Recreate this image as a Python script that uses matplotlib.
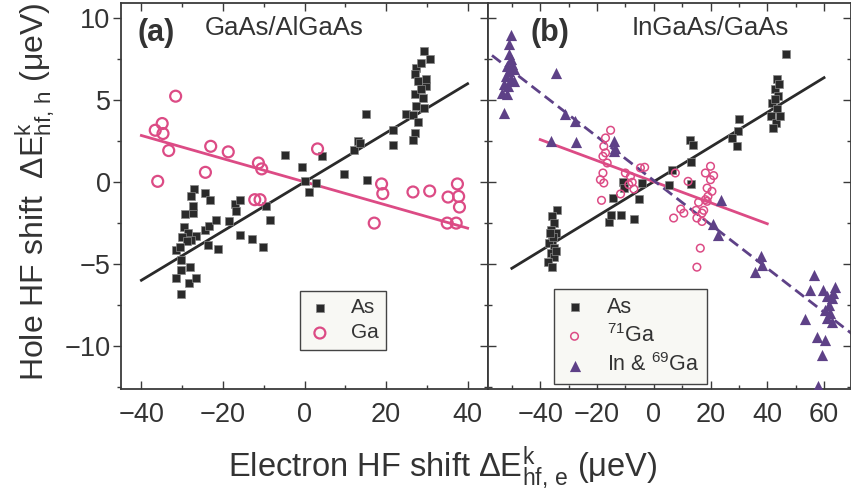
import matplotlib
matplotlib.use("Agg")
import matplotlib.pyplot as plt
import numpy as np

plt.rcParams['font.family'] = ['Liberation Sans', 'DejaVu Sans']
plt.rcParams['mathtext.fontset'] = 'custom'
plt.rcParams['mathtext.rm'] = 'Liberation Sans'
plt.rcParams['mathtext.it'] = 'Liberation Sans:italic'
plt.rcParams['mathtext.bf'] = 'Liberation Sans:bold'

TXT = '#333333'
BLACK = '#2a2a2a'
PINK = '#dc4b85'
PURPLE = '#5e4187'

# ---- panel (a): GaAs/AlGaAs ----
a_as_x = [-27.1, -27.9, -24.5, -23.2, -29.2, -27.3, -27.3, -29.6, -28.6, -30.0,
          -26.7, -27.9, -28.9, -31.6, -30.6, -30.4, -30.4, -31.6, -28.0, -28.3,
          -26.6, -30.4, -24.3, -23.4, -21.8, -23.6, -21.3, -18.4, -17.0, -15.9,
          -16.8, -15.9, -12.8, -10.2, -9.5, -8.4, -4.8, -0.7, 0.1, 2.8,
          1.2, 4.2, 9.6, 15.3, 15.1, 12.2, 13.0, 13.7, 21.7, 21.7,
          29.4, 30.7, 27.4, 28.6, 27.0, 27.8, 29.8, 27.0, 29.0, 27.4,
          29.3, 24.9, 26.5, 27.9, 27.0, 26.7, 28.6, 29.8]
a_as_y = [-0.41, -0.88, -0.67, -1.12, -1.96, -1.90, -1.45, -2.76, -3.12, -3.37,
          -3.29, -3.53, -3.63, -4.18, -3.94, -4.76, -5.37, -5.88, -5.16, -6.18,
          -5.84, -6.84, -2.92, -2.71, -2.35, -3.84, -4.10, -2.37, -1.33, -1.08,
          -1.76, -3.22, -3.49, -3.98, -1.49, -2.31, 1.67, 0.90, 0.04, -0.06,
          -0.63, 1.57, 0.51, 0.14, 4.18, 1.98, 2.49, 2.39, 3.20, 2.24,
          8.00, 7.53, 6.98, 7.29, 6.57, 6.16, 5.86, 5.35, 5.14, 4.63,
          4.53, 4.18, 4.12, 3.65, 3.00, 2.59, 5.65, 6.27]

a_ga_x = [-31.6, -36.6, -34.9, -34.7, -33.3, -36.0, -23.0, -18.7, -24.3, -11.3,
          -10.5, -12.2, -10.9, 3.2, 18.9, 19.2, 17.1, 26.6, 30.7, 35.2,
          37.5, 37.8, 38.0, 35.0, 37.2]
a_ga_y = [5.24, 3.16, 3.57, 2.96, 1.92, 0.04, 2.18, 1.84, 0.59, 1.16,
          0.80, -1.08, -1.08, 2.02, -0.12, -0.71, -2.51, -0.61, -0.55, -0.92,
          -0.12, -0.88, -1.53, -2.51, -2.51]

a_as_fit_x = [-40, 40]
a_as_fit_y = [-6.0, 6.0]
a_ga_fit_x = [-40, 40]
a_ga_fit_y = [2.84, -2.82]

# ---- panel (b): InGaAs/GaAs ----
b_as_x = [-34.0, -35.8, -35.2, -36.3, -34.6, -35.8, -36.9, -35.2, -36.3, -35.1,
          -37.1, -35.8, -34.3, -35.5, -36.7, -15.8, -14.9, -11.4, -14.3, -10.9,
          -10.6, -6.8, -5.3, -4.3, 5.5, 6.4, 12.9, 13.7, 13.1, 13.1,
          30.2, 29.7, 27.7, 29.5, 43.4, 46.7, 42.8, 43.9, 41.6, 43.4,
          41.4, 43.0, 41.9, 44.6, 42.6, 44.0]
b_as_y = [-1.73, -2.10, -2.50, -2.92, -3.12, -3.53, -3.73, -4.04, -4.35, -4.55,
          -4.86, -5.16, -4.24, -3.33, -3.12, -2.47, -2.00, -2.00, -0.98, -0.02,
          -0.37, -2.24, -1.04, -0.06, -0.16, 0.71, 2.59, 2.24, 1.20, -0.10,
          3.82, 3.14, 2.69, 2.18, 6.27, 7.80, 5.65, 5.24, 4.84, 4.43,
          4.02, 3.61, 3.31, 4.02, 5.04, 5.96]

b_ga71_x = [-15.2, -17.0, -17.6, -17.0, -17.9, -16.4, -17.9, -18.8, -17.6, -18.4,
            -11.7, -10.0, -8.2, -7.6, -7.0, -8.8, -4.7, -3.2, 7.6, 12.1,
            9.5, 10.6, 7.0, 15.8, 14.9, 15.2, 17.0, 17.6, 18.2, 19.1,
            20.5, 18.8, 20.0, 18.2, 20.0, 21.1, 18.8, 16.4, 15.2, 17.0]
b_ga71_y = [3.16, 2.69, 2.18, 1.78, 1.57, 1.16, 0.55, 0.14, -0.06, -1.12,
            -0.73, 0.55, 0.35, -0.02, -0.43, -0.16, 0.86, 0.90, 0.55, 0.04,
            -1.65, -1.90, -2.20, -1.24, -1.73, -2.20, -2.41, -1.73, -1.08, -0.88,
            -0.57, -0.37, 0.14, 0.55, 0.96, 0.39, -1.18, -4.04, -5.20, -1.90]

b_in_x = [-50.4, -51.0, -51.0, -50.4, -49.8, -51.6, -51.0, -49.2, -52.2, -50.4,
          -52.8, -51.3, -53.3, -51.6, -52.8, -49.2, -34.6, -31.1, -27.8, -36.3,
          -27.5, -14.1, -13.5, -14.1, 23.8, 20.8, 22.6, 37.9, 38.1, 35.8,
          56.3, 55.1, 63.9, 61.0, 62.8, 61.6, 60.4, 62.2, 61.0, 62.8,
          53.3, 57.5, 60.4, 59.2, 57.8, 59.8, 63.3]
b_in_y = [8.98, 8.41, 7.80, 7.49, 7.18, 7.08, 6.78, 6.88, 6.47, 6.27,
          5.96, 5.86, 5.45, 5.35, 4.22, 6.16, 6.63, 4.18, 3.71, 2.49,
          2.43, 2.49, 2.08, 1.88, -1.08, -2.55, -3.22, -4.51, -5.06, -5.47,
          -5.67, -6.59, -6.43, -6.96, -7.10, -7.51, -7.82, -8.02, -8.33, -8.53,
          -8.39, -9.45, -9.65, -10.57, -12.47, -6.59, -6.80]

b_as_fit_x = [-50, 60]
b_as_fit_y = [-5.27, 6.37]
b_ga71_fit_x = [-40, 40]
b_ga71_fit_y = [2.59, -2.55]
b_in_fit_x = [-57, 70]
b_in_fit_y = [7.73, -9.29]

W, H = 851, 496
fig = plt.figure(figsize=(W / 100, H / 100), dpi=100)


def box(l, r, t, b):
    return [l / W, 1 - b / H, (r - l) / W, (b - t) / H]


axa = fig.add_axes(box(121, 488, 3, 389))
axb = fig.add_axes(box(488, 851, 3, 389))

TICKFS = 19.5
for ax in (axa, axb):
    for s in ax.spines.values():
        s.set_color('#3a3a3a')
        s.set_linewidth(1.3)
    ax.set_ylim(-12.64, 10.93)
    ax.set_yticks([-10, -5, 0, 5, 10])
    ax.set_yticks(np.arange(-12.5, 11, 2.5), minor=True)
    ax.tick_params(axis='x', which='both', direction='in', top=True,
                   colors='#3a3a3a', labelcolor=TXT, labelsize=TICKFS, pad=9)
    ax.tick_params(which='major', length=5.5, width=1)
    ax.tick_params(which='minor', length=3, width=1)

axa.set_xlim(-45, 45)
axa.set_xticks([-40, -20, 0, 20, 40])
axa.set_xticks([-30, -10, 10, 30], minor=True)
axa.tick_params(axis='y', which='both', direction='out', left=True, right=False,
                colors='#3a3a3a', labelcolor=TXT, labelsize=TICKFS, pad=2)
sec = axa.secondary_yaxis('right')
sec.set_yticks([-10, -5, 0, 5, 10])
sec.set_yticks(np.arange(-12.5, 11, 2.5), minor=True)
sec.tick_params(which='both', direction='in', labelright=False, colors='#3a3a3a', width=1)
sec.tick_params(which='major', length=5.5)
sec.tick_params(which='minor', length=3)
sec.spines['right'].set_visible(False)

axb.set_xlim(-58.4, 69.5)
axb.set_xticks([-40, -20, 0, 20, 40, 60])
axb.set_xticks([-50, -30, -10, 10, 30, 50], minor=True)
axb.tick_params(axis='y', which='both', direction='in', left=True, right=True,
                labelleft=False, colors='#3a3a3a')

# panel (a) data
axa.plot(a_as_fit_x, a_as_fit_y, color=BLACK, lw=2, zorder=2)
axa.plot(a_ga_fit_x, a_ga_fit_y, color=PINK, lw=2, zorder=2)
axa.scatter(a_as_x, a_as_y, marker='s', s=30, color=BLACK, edgecolor='#888888',
            linewidth=0.5, zorder=3, label='As')
axa.scatter(a_ga_x, a_ga_y, marker='o', s=62, facecolor='none', edgecolor=PINK,
            linewidth=1.6, zorder=3, label='Ga')

# panel (b) data
axb.plot(b_as_fit_x, b_as_fit_y, color=BLACK, lw=2, zorder=2)
axb.plot(b_ga71_fit_x, b_ga71_fit_y, color=PINK, lw=2, zorder=2)
axb.plot(b_in_fit_x, b_in_fit_y, color=PURPLE, lw=2, ls=(0, (4, 2)), zorder=2)
axb.scatter(b_as_x, b_as_y, marker='s', s=30, color=BLACK, edgecolor='#888888',
            linewidth=0.5, zorder=3, label='As')
axb.scatter(b_ga71_x, b_ga71_y, marker='o', s=30, facecolor='none', edgecolor=PINK,
            linewidth=1.1, zorder=3, label=r'$^{71}$Ga')
axb.scatter(b_in_x, b_in_y, marker='^', s=65, color=PURPLE, linewidth=0,
            zorder=3, label=r'In & $^{69}$Ga')

for ax, anchor, fs in ((axa, (0.488, 0.254), 15), (axb, (0.182, 0.259), 15.5)):
    leg = ax.legend(loc='upper left', bbox_to_anchor=anchor, fontsize=fs,
                    frameon=True, fancybox=False, framealpha=1,
                    handlelength=1.2, handletextpad=0.9, borderpad=0.35,
                    labelspacing=0.3, borderaxespad=0)
    leg.get_frame().set_facecolor('#f8f8f4')
    leg.get_frame().set_edgecolor('#444444')
    leg.get_frame().set_linewidth(1)
    for t in leg.get_texts():
        t.set_color(TXT)

axa.text(0.044, 0.922, '(a)', transform=axa.transAxes, fontsize=22,
         fontweight='bold', color=TXT, va='center', ha='left')
axa.text(0.229, 0.917, 'GaAs/AlGaAs', transform=axa.transAxes, fontsize=18.5,
         color=TXT, va='baseline', ha='left')
axb.text(0.116, 0.922, '(b)', transform=axb.transAxes, fontsize=22,
         fontweight='bold', color=TXT, va='center', ha='left')
axb.text(0.397, 0.917, 'InGaAs/GaAs', transform=axb.transAxes, fontsize=18.5,
         color=TXT, va='baseline', ha='left')

fig.text(443 / W, 1 - 477 / H,
         r'Electron HF shift $\Delta\mathregular{E^{k}_{hf,\,e}}$ ($\mathregular{\mu}$eV)',
         fontsize=23.5, color=TXT, ha='center', va='baseline')
fig.text(35 / W, 1 - 192 / H,
         r'Hole HF shift  $\Delta\mathregular{E^{k}_{hf,\,h}}$ ($\mathregular{\mu}$eV)',
         fontsize=23, color=TXT, ha='center', va='center', rotation=90)

fig.savefig('out.png', dpi=100)
